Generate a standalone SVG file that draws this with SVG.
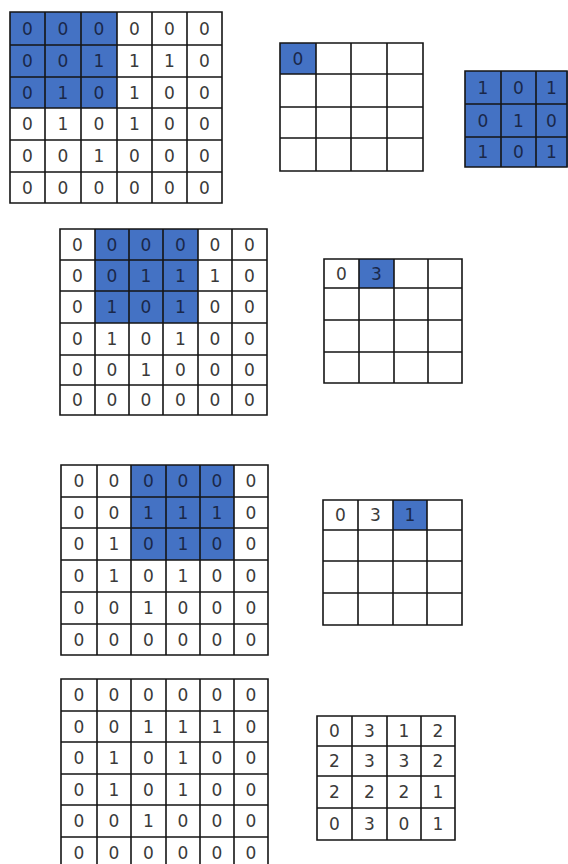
<svg xmlns="http://www.w3.org/2000/svg" width="568" height="864" viewBox="0 0 568 864">
<style>
.bg{fill:#ffffff}
.hl{fill:#4472C4}
.g{fill:none;stroke:#151515;stroke-width:1.6}
.t{font-family:"DejaVu Sans",sans-serif;font-size:17px;fill:#3a3a3a;text-anchor:middle;dominant-baseline:central}
.tb{fill:#1a284a}
</style>
<rect class="bg" x="0" y="0" width="568" height="864"/>

<g id="input-step1">
<rect class="hl" x="10" y="12" width="107" height="96"/>
<path class="g" d="M10 12H222V203H10Z M45 12V203 M81 12V203 M117 12V203 M152 12V203 M187 12V203 M10 45H222 M10 77H222 M10 108H222 M10 140H222 M10 172H222"/>
<g class="t">
<text x="27.5" y="28.5" class="t tb">0</text><text x="63" y="28.5" class="t tb">0</text><text x="99" y="28.5" class="t tb">0</text><text x="134.5" y="28.5">0</text><text x="169.5" y="28.5">0</text><text x="204.5" y="28.5">0</text>
<text x="27.5" y="61" class="t tb">0</text><text x="63" y="61" class="t tb">0</text><text x="99" y="61" class="t tb">1</text><text x="134.5" y="61">1</text><text x="169.5" y="61">1</text><text x="204.5" y="61">0</text>
<text x="27.5" y="92.5" class="t tb">0</text><text x="63" y="92.5" class="t tb">1</text><text x="99" y="92.5" class="t tb">0</text><text x="134.5" y="92.5">1</text><text x="169.5" y="92.5">0</text><text x="204.5" y="92.5">0</text>
<text x="27.5" y="124">0</text><text x="63" y="124">1</text><text x="99" y="124">0</text><text x="134.5" y="124">1</text><text x="169.5" y="124">0</text><text x="204.5" y="124">0</text>
<text x="27.5" y="156">0</text><text x="63" y="156">0</text><text x="99" y="156">1</text><text x="134.5" y="156">0</text><text x="169.5" y="156">0</text><text x="204.5" y="156">0</text>
<text x="27.5" y="187.5">0</text><text x="63" y="187.5">0</text><text x="99" y="187.5">0</text><text x="134.5" y="187.5">0</text><text x="169.5" y="187.5">0</text><text x="204.5" y="187.5">0</text>
</g>
</g>

<g id="output-step1">
<rect class="hl" x="280" y="43" width="36" height="31"/>
<path class="g" d="M280 43H423V171H280Z M316 43V171 M351 43V171 M387 43V171 M280 74H423 M280 107H423 M280 138H423"/>
<text x="298" y="58.5" class="t tb">0</text>
</g>

<g id="kernel">
<rect class="hl" x="465" y="71" width="103" height="96"/>
<path class="g" d="M465 71H567V167H465Z M501 71V167 M536 71V167 M465 104H567 M465 137H567"/>
<g>
<text x="483" y="87.5" class="t tb">1</text><text x="518.5" y="87.5" class="t tb">0</text><text x="551.5" y="87.5" class="t tb">1</text>
<text x="483" y="120.5" class="t tb">0</text><text x="518.5" y="120.5" class="t tb">1</text><text x="551.5" y="120.5" class="t tb">0</text>
<text x="483" y="152" class="t tb">1</text><text x="518.5" y="152" class="t tb">0</text><text x="551.5" y="152" class="t tb">1</text>
</g>
</g>

<g id="input-step2">
<rect class="hl" x="95" y="229" width="103" height="94"/>
<path class="g" d="M60 229H267V415H60Z M95 229V415 M129 229V415 M163 229V415 M198 229V415 M232 229V415 M60 260H267 M60 291H267 M60 323H267 M60 355H267 M60 385H267"/>
<g class="t">
<text x="77.5" y="244.5">0</text><text x="112" y="244.5" class="t tb">0</text><text x="146" y="244.5" class="t tb">0</text><text x="180.5" y="244.5" class="t tb">0</text><text x="215" y="244.5">0</text><text x="249.5" y="244.5">0</text>
<text x="77.5" y="275.5">0</text><text x="112" y="275.5" class="t tb">0</text><text x="146" y="275.5" class="t tb">1</text><text x="180.5" y="275.5" class="t tb">1</text><text x="215" y="275.5">1</text><text x="249.5" y="275.5">0</text>
<text x="77.5" y="307">0</text><text x="112" y="307" class="t tb">1</text><text x="146" y="307" class="t tb">0</text><text x="180.5" y="307" class="t tb">1</text><text x="215" y="307">0</text><text x="249.5" y="307">0</text>
<text x="77.5" y="339">0</text><text x="112" y="339">1</text><text x="146" y="339">0</text><text x="180.5" y="339">1</text><text x="215" y="339">0</text><text x="249.5" y="339">0</text>
<text x="77.5" y="370">0</text><text x="112" y="370">0</text><text x="146" y="370">1</text><text x="180.5" y="370">0</text><text x="215" y="370">0</text><text x="249.5" y="370">0</text>
<text x="77.5" y="400">0</text><text x="112" y="400">0</text><text x="146" y="400">0</text><text x="180.5" y="400">0</text><text x="215" y="400">0</text><text x="249.5" y="400">0</text>
</g>
</g>

<g id="output-step2">
<rect class="hl" x="359" y="259" width="35" height="29"/>
<path class="g" d="M324 259H462V383H324Z M359 259V383 M394 259V383 M428 259V383 M324 288H462 M324 320H462 M324 352H462"/>
<text x="341.5" y="273.5" class="t">0</text>
<text x="376.5" y="273.5" class="t tb">3</text>
</g>

<g id="input-step3">
<rect class="hl" x="131" y="465" width="103" height="95"/>
<path class="g" d="M61 465H268V655H61Z M97 465V655 M131 465V655 M166 465V655 M200 465V655 M234 465V655 M61 497H268 M61 528H268 M61 560H268 M61 592H268 M61 624H268"/>
<g class="t">
<text x="79" y="481">0</text><text x="114" y="481">0</text><text x="148.5" y="481" class="t tb">0</text><text x="183" y="481" class="t tb">0</text><text x="217" y="481" class="t tb">0</text><text x="251" y="481">0</text>
<text x="79" y="512.5">0</text><text x="114" y="512.5">0</text><text x="148.5" y="512.5" class="t tb">1</text><text x="183" y="512.5" class="t tb">1</text><text x="217" y="512.5" class="t tb">1</text><text x="251" y="512.5">0</text>
<text x="79" y="544">0</text><text x="114" y="544">1</text><text x="148.5" y="544" class="t tb">0</text><text x="183" y="544" class="t tb">1</text><text x="217" y="544" class="t tb">0</text><text x="251" y="544">0</text>
<text x="79" y="576">0</text><text x="114" y="576">1</text><text x="148.5" y="576">0</text><text x="183" y="576">1</text><text x="217" y="576">0</text><text x="251" y="576">0</text>
<text x="79" y="608">0</text><text x="114" y="608">0</text><text x="148.5" y="608">1</text><text x="183" y="608">0</text><text x="217" y="608">0</text><text x="251" y="608">0</text>
<text x="79" y="639.5">0</text><text x="114" y="639.5">0</text><text x="148.5" y="639.5">0</text><text x="183" y="639.5">0</text><text x="217" y="639.5">0</text><text x="251" y="639.5">0</text>
</g>
</g>

<g id="output-step3">
<rect class="hl" x="393" y="500" width="34" height="30"/>
<path class="g" d="M323 500H462V625H323Z M358 500V625 M393 500V625 M427 500V625 M323 530H462 M323 561H462 M323 593H462"/>
<text x="340.5" y="515" class="t">0</text>
<text x="375.5" y="515" class="t">3</text>
<text x="410" y="515" class="t tb">1</text>
</g>

<g id="input-final">
<path class="g" d="M61 679H268V868H61Z M97 679V868 M131 679V868 M166 679V868 M200 679V868 M234 679V868 M61 711H268 M61 742H268 M61 774H268 M61 805H268 M61 837H268"/>
<g class="t">
<text x="79" y="695">0</text><text x="114" y="695">0</text><text x="148.5" y="695">0</text><text x="183" y="695">0</text><text x="217" y="695">0</text><text x="251" y="695">0</text>
<text x="79" y="726.5">0</text><text x="114" y="726.5">0</text><text x="148.5" y="726.5">1</text><text x="183" y="726.5">1</text><text x="217" y="726.5">1</text><text x="251" y="726.5">0</text>
<text x="79" y="758">0</text><text x="114" y="758">1</text><text x="148.5" y="758">0</text><text x="183" y="758">1</text><text x="217" y="758">0</text><text x="251" y="758">0</text>
<text x="79" y="789.5">0</text><text x="114" y="789.5">1</text><text x="148.5" y="789.5">0</text><text x="183" y="789.5">1</text><text x="217" y="789.5">0</text><text x="251" y="789.5">0</text>
<text x="79" y="821">0</text><text x="114" y="821">0</text><text x="148.5" y="821">1</text><text x="183" y="821">0</text><text x="217" y="821">0</text><text x="251" y="821">0</text>
<text x="79" y="852.5">0</text><text x="114" y="852.5">0</text><text x="148.5" y="852.5">0</text><text x="183" y="852.5">0</text><text x="217" y="852.5">0</text><text x="251" y="852.5">0</text>
</g>
</g>

<g id="output-final">
<path class="g" d="M317 716H455V840H317Z M352 716V840 M387 716V840 M421 716V840 M317 746H455 M317 776H455 M317 808H455"/>
<g class="t">
<text x="334.5" y="731">0</text><text x="369.5" y="731">3</text><text x="404" y="731">1</text><text x="438" y="731">2</text>
<text x="334.5" y="761">2</text><text x="369.5" y="761">3</text><text x="404" y="761">3</text><text x="438" y="761">2</text>
<text x="334.5" y="792">2</text><text x="369.5" y="792">2</text><text x="404" y="792">2</text><text x="438" y="792">1</text>
<text x="334.5" y="824">0</text><text x="369.5" y="824">3</text><text x="404" y="824">0</text><text x="438" y="824">1</text>
</g>
</g>

<g id="connectors"/>
</svg>
